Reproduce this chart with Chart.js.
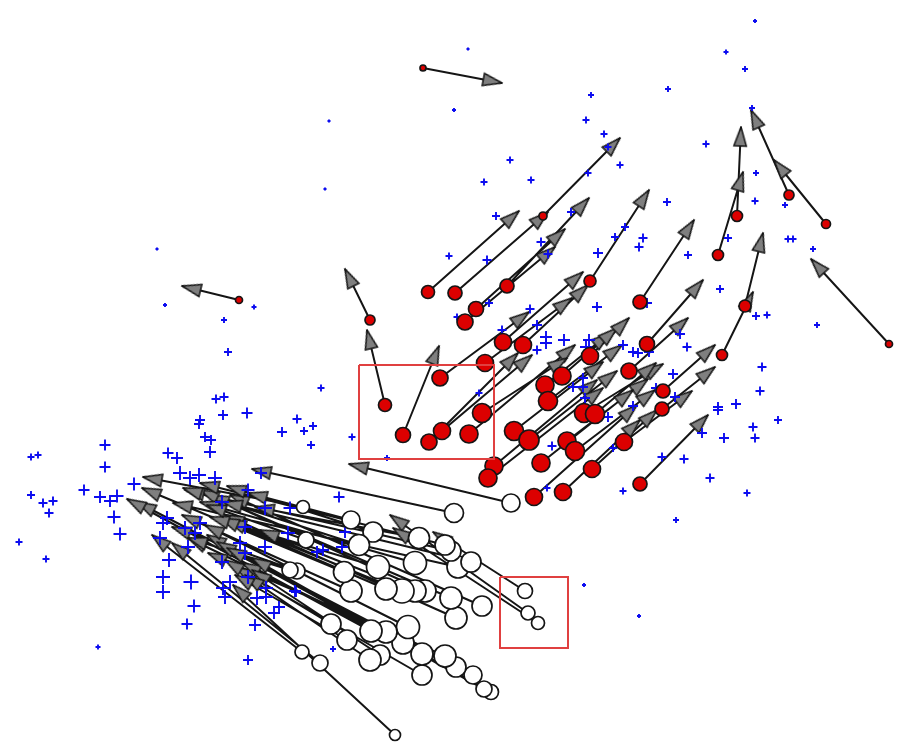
<!DOCTYPE html>
<html>
<head>
<meta charset="utf-8">
<title>Arrow scatter</title>
<script src="https://cdn.jsdelivr.net/npm/chart.js@4"></script>
<style>
  html, body { margin: 0; padding: 0; background: #fff; }
  canvas { display: block; filter: blur(0.4px); }
</style>
</head>
<body>
<canvas id="chart" width="910" height="754"></canvas>
<script>
// [x, y, size]
const plusTop = [
  [755,21,2],[726,52,2.5],[745,69,3],[668,89,3],[591,95,3],[752,108,3],[586,120,3.5],[604,134,3.5],
  [608,147,3.5],[620,165,3.5],[706,144,3.5],[510,160,3.5],[484,182,3.5],[531,180,3.5],[588,173,3.5],
  [468,49,1.5],[454,110,2],[329,121,1.5],[325,189,1.5],[157,249,1.5],[165,305,2],[254,307,2.5],
  [224,320,3],[228,352,4],[756,173,3],[755,201,3.5],[785,205,3],[667,202,4],[496,216,4],[571,212,4],
  [449,256,3.5],[487,260,4.5],[541,242,4.5],[548,254,4.5],[615,237,4],[625,227,4],[643,238,4.5],
  [639,247,4.5],[598,253,5],[688,255,4],[728,238,4],[788,239,3.5],[793,239,3.5],[813,249,3],
  [720,289,4],[756,316,4],[767,315,3.5],[817,325,3],[597,307,5],[647,303,5],[489,303,4],[530,309,4.5],
  [457,317,3.5],[502,330,4.5],[537,325,5]
];
const plusMiddle = [
  [546,337,6],[546,343,6],[564,340,6],[589,340,6],[586,347,6],[537,350,4.5],[623,345,5],[633,352,5],
  [638,353,5],[649,352,5],[680,334,5],[687,347,4.5],[673,374,5],[675,397,5],[656,388,5],[633,406,5],
  [608,417,5],[573,387,5],[583,378,5],[583,387,5],[585,398,5],[479,393,3.5],[352,437,3.5],[387,458,3],
  [552,446,4.5],[613,448,4],[547,488,3.5],[623,491,3.5],[676,520,3],[762,367,4.5],[760,391,4.5],
  [736,404,5],[718,407,5],[718,410,5],[753,427,4.5],[755,438,4.5],[778,420,4],[724,438,5],[702,433,5],
  [684,459,4.5],[662,457,4.5],[710,478,4.5],[747,493,3.5],[584,585,2],[639,616,2],[333,649,3]
];
const plusLeft = [
  [321,388,3.5],[216,399,4.5],[224,397,4.5],[199,424,5],[200,420,5],[223,415,5],[247,413,5.5],[297,419,4.5],
  [282,432,5],[304,431,4],[313,426,4],[311,445,4],[205,437,5],[211,440,5],[210,452,6],[168,453,5.5],[177,458,6],
  [31,457,3.5],[38,455,3.5],[31,495,4],[43,503,4.5],[53,501,4.5],[49,513,4.5],[19,542,3.5],[46,559,3.5],
  [98,647,2.5],[105,445,5.5],[105,467,5.5],[84,490,5.5],[100,497,6],[110,501,6],[117,496,6.5],[134,484,6.5],
  [114,517,6.5],[120,534,6.5],[180,473,7],[190,478,7],[199,475,7],[215,478,7],[261,473,6],[248,490,6.5],
  [222,502,7],[265,508,7],[290,508,6.5],[288,533,7],[163,523,7],[167,518,7],[160,538,7],[185,528,7],
  [200,523,7],[195,533,7],[245,527,7],[240,543,7],[265,547,7],[245,553,7],[222,562,7],[169,560,7],
  [163,577,7],[163,592,7],[191,582,7.5],[194,606,6.5],[187,624,5.5],[230,582,7],[223,588,7],[225,597,7],
  [248,577,7],[257,598,7],[266,588,7],[266,597,7],[295,591,6],[279,607,6],[274,613,6],[255,625,6],
  [248,660,5],[188,547,7],[339,497,5.5],[345,532,6],[342,547,6],[323,550,6],[317,552,6],[296,592,5]
];

// [x, y, size, tipX, tipY]
const redNodes = [
  [423,68,3,502,83],[239,300,3.5,182,286],[370,320,5,345,269],[385,405,6.5,367,330],[403,435,7.5,439,346],
  [428,292,6.5,519,211],[455,293,7,548,212],[543,216,4,620,138],[507,286,7,589,198],[476,309,7.5,565,229],
  [465,322,8,555,247],[590,281,6,649,190],[440,378,8,529,312],[485,363,8.5,572,298],[503,342,8.5,583,272],
  [523,345,8.5,588,285],[442,431,8.5,532,355],[429,442,8,518,353],[469,434,9,575,345],[482,413,9.5,567,358],
  [514,431,9.5,603,362],[545,385,9,610,333],[562,376,9,617,328],[548,401,9.5,622,345],[590,356,8.5,629,318],
  [640,302,7,694,220],[647,344,7.5,703,280],[629,371,8,688,318],[529,440,10,617,371],[494,466,9,597,380],
  [488,478,9,603,388],[584,413,9.5,663,364],[595,414,9.5,656,363],[567,441,9,648,379],[575,451,9.5,655,390],
  [541,463,9,633,390],[534,497,8.5,637,405],[563,492,8.5,640,420],[592,469,8.5,657,410],[624,442,8.5,692,391],
  [662,409,7,715,367],[663,391,7,715,345],[640,484,7,708,415],[722,355,5.5,753,292],[745,306,6,763,233],
  [718,255,5.5,743,172],[737,216,5.5,741,127],[789,195,5,751,110],[826,224,4.5,774,160],[889,344,3.5,811,259]
];
const whiteNodes = [
  [395,735,5.5,233,585],[320,663,8,172,543],[302,652,7,152,535],[511,503,9,349,464],[454,513,9.5,252,469],
  [525,591,7.5,433,532],[528,613,7,390,515],[538,623,6.5,393,528],[491,692,7.5,207,535],[484,689,8,217,542],
  [473,675,9,227,548],[422,675,10,235,567],[456,667,10,188,538],[445,656,11,208,553],[422,654,11,242,563],
  [380,655,10,252,570],[370,660,11,245,575],[403,643,11,252,558],[408,627,11.5,205,525],[386,632,11,137,502],
  [371,631,11,127,499],[347,640,10,235,575],[331,624,10,225,560],[456,618,11,225,515],[482,606,10,230,495],
  [451,598,11,210,495],[425,591,11,200,490],[415,591,11,260,530],[402,591,12,227,520],[386,589,11,220,518],
  [351,591,11,182,515],[344,572,10.5,142,488],[378,567,11.5,210,517],[415,563,11.5,200,502],[458,567,11,173,503],
  [471,562,10,223,502],[451,551,10,185,490],[445,545,10,200,483],[419,538,10.5,255,507],[373,532,10,227,486],
  [359,545,10.5,183,488],[351,520,9,248,493],[306,540,8,207,505],[303,507,6.5,143,477],[297,571,8,172,527],[290,570,8,188,538]
];

// x0, y0, x1, y1
const redBoxes = [[359,365,494,459],[500,577,568,648]];

const arrows = redNodes.concat(whiteNodes);
const plusMarks = plusTop.concat(plusMiddle, plusLeft);

function makeHead() {
  const c = document.createElement("canvas");
  c.width = 22;
  c.height = 16;
  const g = c.getContext("2d");
  g.fillStyle = "#7f7f7f";
  g.strokeStyle = "#151515";
  g.lineWidth = 1.5;
  g.lineJoin = "miter";
  g.beginPath();
  g.moveTo(21, 8);
  g.lineTo(2, 1.8);
  g.lineTo(2, 14.2);
  g.closePath();
  g.fill();
  g.stroke();
  return c;
}

function arrowLines() {
  const pts = [];
  arrows.forEach((a) => {
    pts.push({ x: a[0], y: a[1] }, { x: a[3], y: a[4] }, { x: null, y: null });
  });
  return pts;
}

// head sits just behind the tip, pointing along the shaft
function headCentres() {
  return arrows.map((a) => {
    const len = Math.hypot(a[3] - a[0], a[4] - a[1]) || 1;
    return { x: a[3] - ((a[3] - a[0]) / len) * 10, y: a[4] - ((a[4] - a[1]) / len) * 10 };
  });
}

const headRotation = arrows.map((a) => (Math.atan2(a[4] - a[1], a[3] - a[0]) * 180) / Math.PI);

function boxLines() {
  const pts = [];
  redBoxes.forEach((b) => {
    pts.push({ x: b[0], y: b[1] }, { x: b[2], y: b[1] }, { x: b[2], y: b[3] }, { x: b[0], y: b[3] }, { x: b[0], y: b[1] }, { x: null, y: null });
  });
  return pts;
}

function nodeDataset(nodes, fill, order) {
  return {
    data: nodes.map((n) => ({ x: n[0], y: n[1] })),
    pointStyle: "circle",
    pointRadius: nodes.map((n) => n[2]),
    pointBackgroundColor: fill,
    pointBorderColor: "#151515",
    pointBorderWidth: 1.7,
    showLine: false,
    order,
  };
}

new Chart(document.getElementById("chart"), {
  type: "scatter",
  data: {
    datasets: [
      {
        data: boxLines(),
        showLine: true,
        spanGaps: false,
        borderColor: "#e04040",
        borderWidth: 2,
        pointRadius: 0,
        order: 1,
      },
      nodeDataset(whiteNodes, "#ffffff", 2),
      nodeDataset(redNodes, "#dc0000", 3),
      {
        data: plusMarks.map((p) => ({ x: p[0], y: p[1] })),
        pointStyle: "cross",
        pointRadius: plusMarks.map((p) => p[2]),
        pointBorderColor: "#0c0cf0",
        pointBorderWidth: 1.9,
        showLine: false,
        order: 4,
      },
      {
        data: headCentres(),
        pointStyle: makeHead(),
        pointRotation: headRotation,
        showLine: false,
        order: 5,
      },
      {
        data: arrowLines(),
        showLine: true,
        spanGaps: false,
        borderColor: "#151515",
        borderWidth: 2,
        pointRadius: 0,
        order: 6,
      },
    ],
  },
  options: {
    responsive: false,
    animation: false,
    layout: { padding: 0, autoPadding: false },
    plugins: { legend: { display: false }, tooltip: { enabled: false } },
    scales: {
      x: { type: "linear", display: false, min: 0, max: 910 },
      y: { type: "linear", display: false, min: 0, max: 754, reverse: true },
    },
  },
});
</script>
</body>
</html>
